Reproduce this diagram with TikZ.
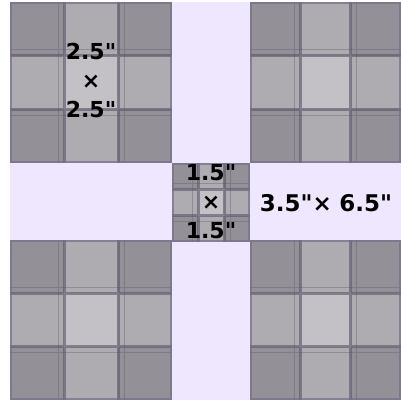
\documentclass[tikz,border=0pt]{standalone}
\usepackage{fontspec}
\setmainfont{DejaVu Sans}[Ligatures=TeXOff]
\usepackage{tikz}
\usetikzlibrary{positioning,calc}
\definecolor{sashlilac}{RGB}{238,231,254}
\definecolor{plaidgray}{RGB}{148,144,151}
\definecolor{plaidline}{RGB}{88,82,102}
\definecolor{plaidedge}{RGB}{118,110,140}
\tikzset{
  sash/.style={fill=sashlilac},
  base/.style={fill=plaidgray},
  light/.style={fill=white,opacity=0.26},
  stripe/.style={draw=plaidline,line width=3pt,opacity=0.6},
  pin/.style={draw=plaidline,line width=0.8pt,opacity=0.35},
  frame/.style={draw=plaidedge,line width=2.5pt,opacity=0.7},
  size/.style={font=\bfseries\fontsize{22}{29}\selectfont,align=center,text=black},
}

\begin{document}
\begin{tikzpicture}[x=1pt,y=-1pt]
  \useasboundingbox (0,0) rectangle (401,400);
  \fill[white] (0,0) rectangle (401,400);
  % sashing strips
  \fill[sash] (10,2) rectangle (401,400);
  % plaid squares
  \foreach \xa/\ya/\xb/\yb in {10/2/172/163, 250/2/401/163, 10/240/172/400,
                               250/240/401/400, 172/163/250/242} {
    \pgfmathsetmacro\xp{\xa+(\xb-\xa)/3}
    \pgfmathsetmacro\xq{\xa+2*(\xb-\xa)/3}
    \pgfmathsetmacro\yp{\ya+(\yb-\ya)/3}
    \pgfmathsetmacro\yq{\ya+2*(\yb-\ya)/3}
    \fill[base] (\xa,\ya) rectangle (\xb,\yb);
    \fill[light] (\xp,\ya) rectangle (\xq,\yb);
    \fill[light] (\xa,\yp) rectangle (\xb,\yq);
    \draw[stripe] (\xp,\ya) -- (\xp,\yb) (\xq,\ya) -- (\xq,\yb)
                  (\xa,\yp) -- (\xb,\yp) (\xa,\yq) -- (\xb,\yq);
    \draw[pin] (\xp-6,\ya) -- (\xp-6,\yb) (\xq+6,\ya) -- (\xq+6,\yb)
               (\xa,\yp-6) -- (\xb,\yp-6) (\xa,\yq+6) -- (\xb,\yq+6);
    \draw[frame] (\xa+1,\ya+1) rectangle (\xb-1,\yb-1);
  }
  % sizes
  \node[size] (corner) at (91,80) {2.5"\\×\\2.5"};
  \node[size] (centre) at (211,202) {1.5"\\×\\1.5"};
  \node[size,font=\bfseries\fontsize{23}{29}\selectfont] (strip) at (326,203)
    {3.5"×\,\,6.5"};
\end{tikzpicture}
\end{document}
